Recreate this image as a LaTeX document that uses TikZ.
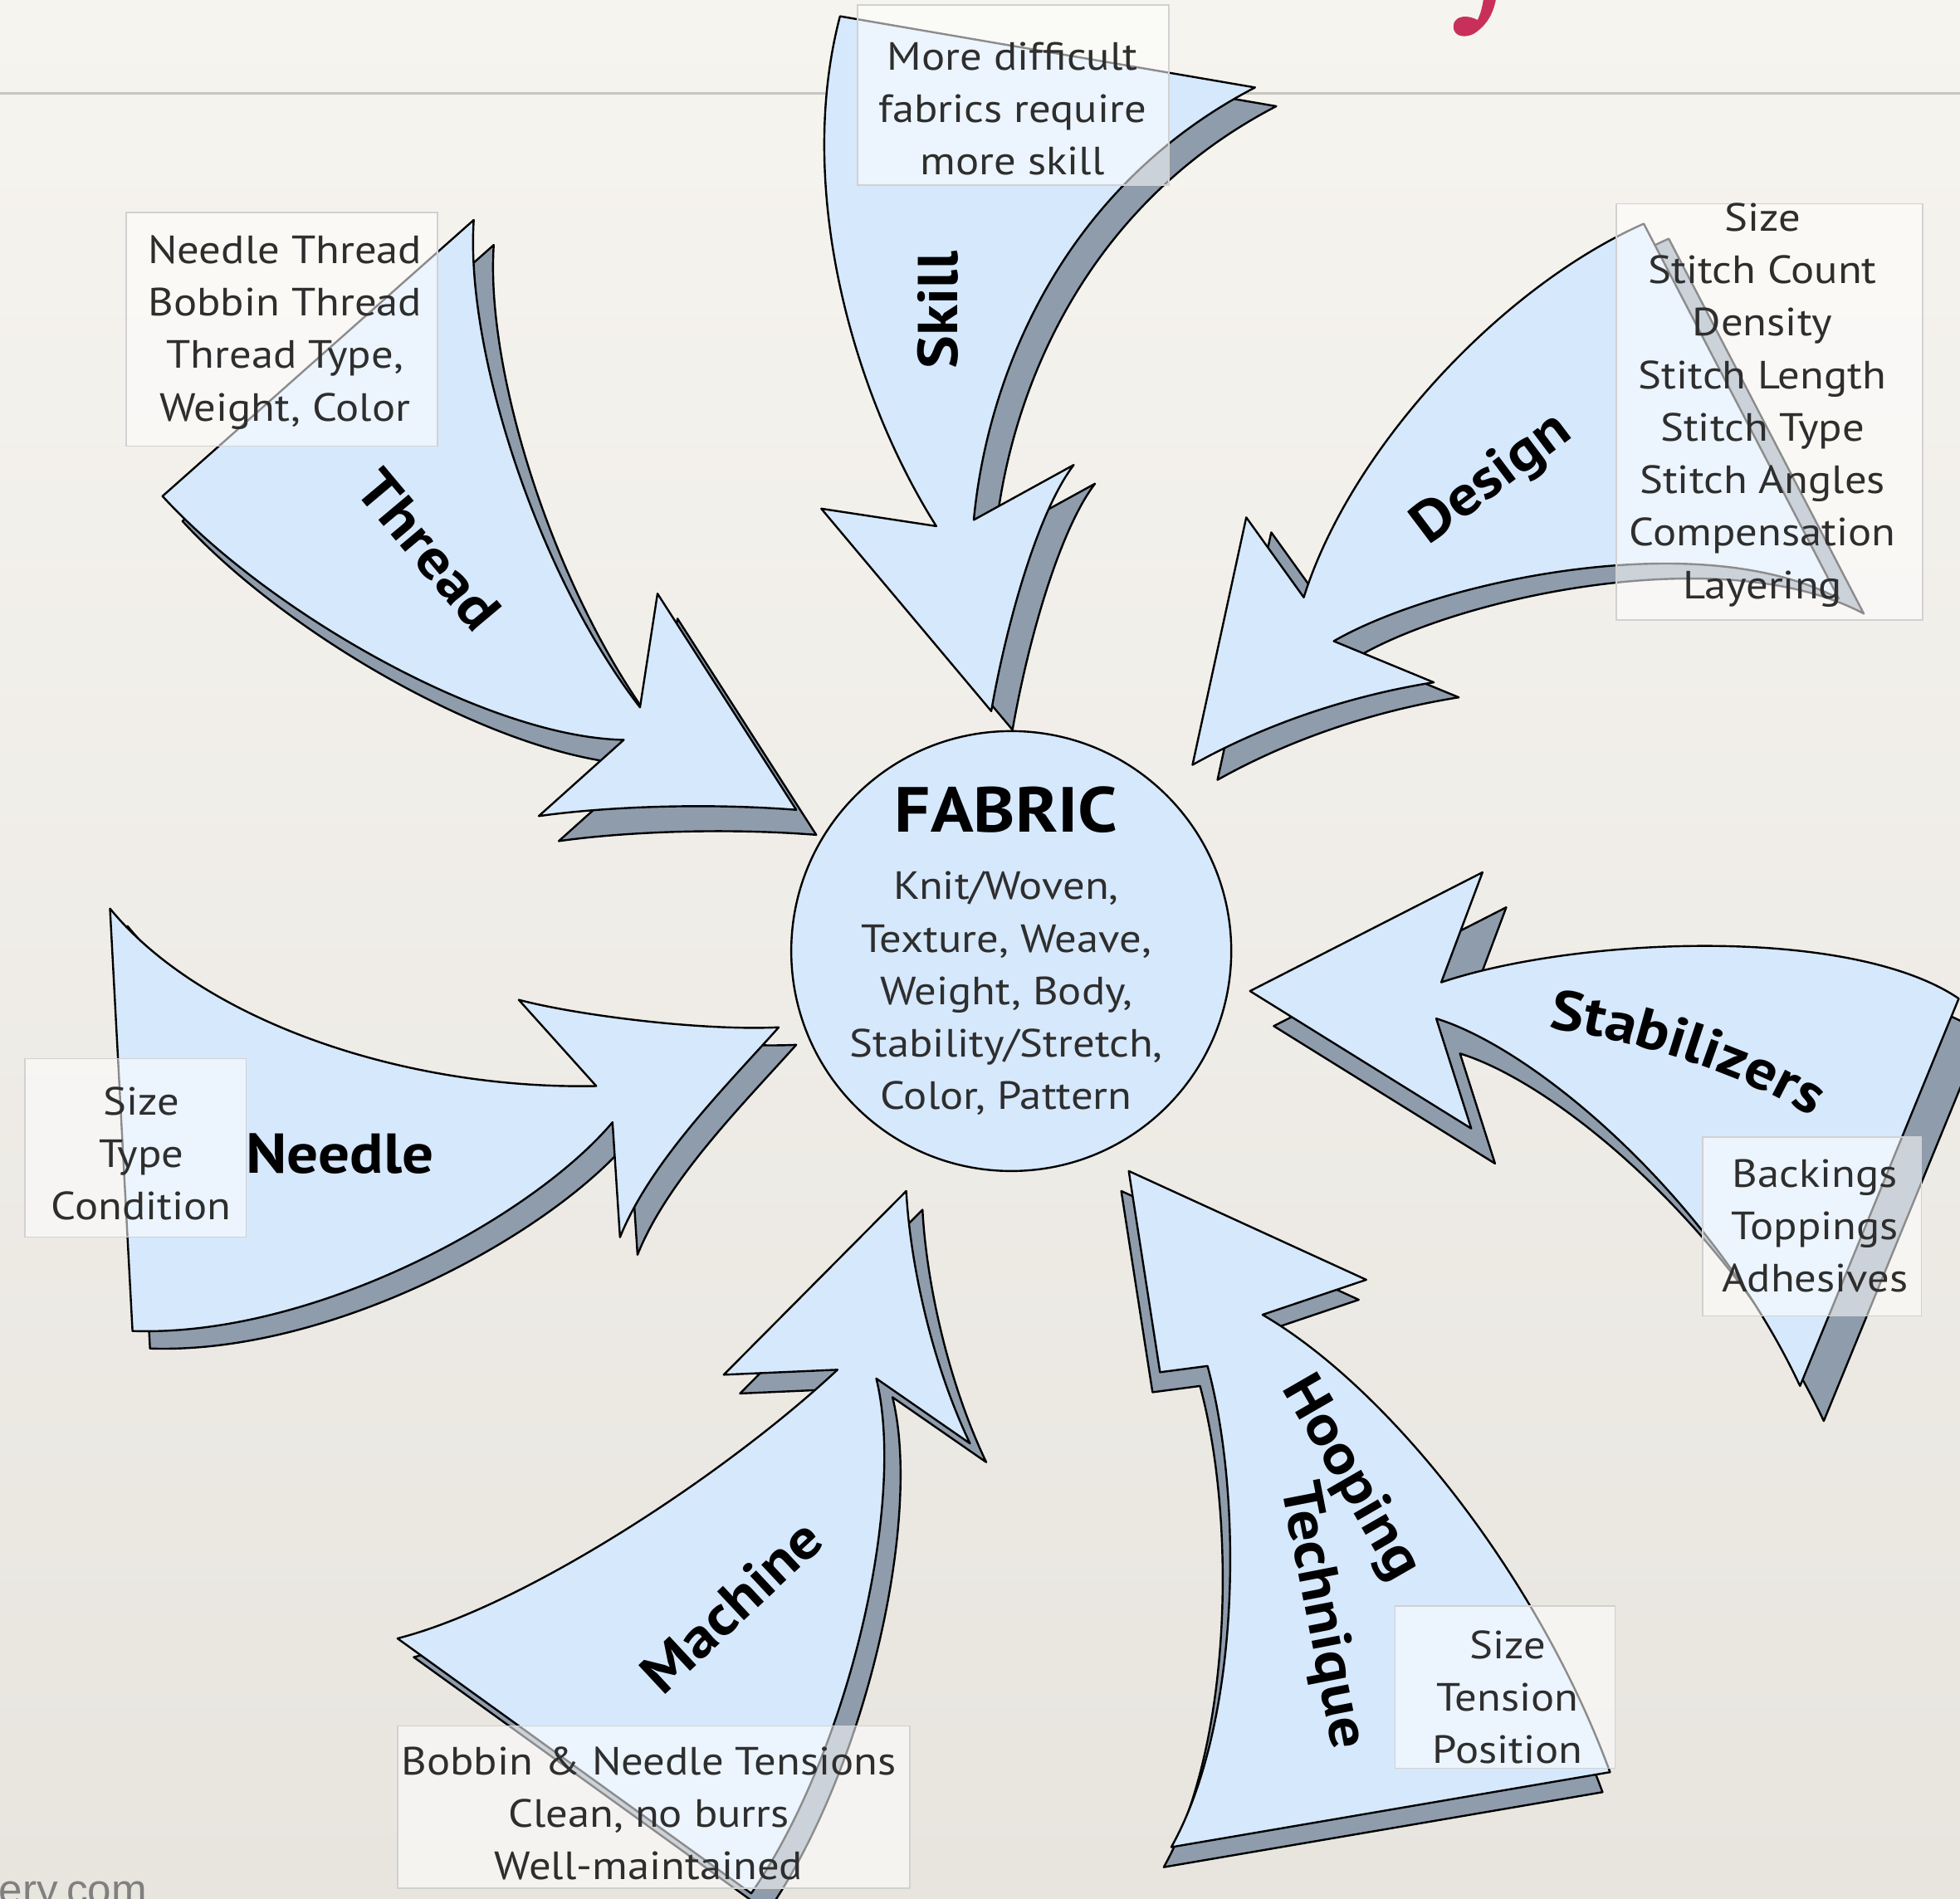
\documentclass[tikz,border=0pt]{standalone}
\usepackage{fontspec}
\setmainfont{PT Sans}[FakeStretch=1.11]
\newfontfamily\sitefont{Liberation Sans}
\usetikzlibrary{decorations.text}
\definecolor{bgtop}{RGB}{246,244,239}
\definecolor{bgbot}{RGB}{232,229,223}
\definecolor{arrfill}{RGB}{214,232,252}
\definecolor{shfill}{RGB}{142,156,172}
\definecolor{pinkmark}{RGB}{200,48,90}
\definecolor{rulegray}{RGB}{200,198,192}
\begin{document}
\begin{tikzpicture}[x=1pt,y=-1pt,
  arrowbody/.style={fill=arrfill,draw=black,line width=1.6pt,line join=round},
  arrowshadow/.style={fill=shfill,draw=black,line width=1.6pt,line join=round},
  infobox/.style={fill=white,fill opacity=0.55,draw=black!18,line width=1pt},
  infotext/.style={align=center,font=\fontsize{31.5}{42}\selectfont,text=black!82,inner sep=0pt},
  bigtext/.style={font=\fontsize{45}{48}\selectfont\bfseries,inner sep=0pt}]
\useasboundingbox (0,0) rectangle (1568,1519);
\clip (0,0) rectangle (1568,1519);
\shade[top color=bgtop,bottom color=bgbot] (0,0) rectangle (1568,1519);
\draw[rulegray,line width=2pt] (0,75) -- (1568,75);
\fill[pinkmark] (1187,-2) -- (1197,-2) .. controls (1195,10) and (1190,20) .. (1179,27) .. controls (1169,32) and (1161,27) .. (1163,19) .. controls (1165,12) and (1175,12) .. (1182,16) .. controls (1185,10) and (1186,4) .. (1187,-2) -- cycle;
\node[anchor=base west,font=\fontsize{34}{34}\selectfont\sitefont,text=black!50,inner sep=0pt] (site) at (-1,1524) {ery.com};

% arrow outlines
\def\skillpath{(672,13) .. controls (636,150) and (682,315) .. (749,421) -- (657,407) -- (793,569) .. controls (805,500) and (830,410) .. (859,372) -- (779,416) .. controls (790,300) and (850,150) .. (1004,70) -- cycle}
\def\threadpath{(130,397) -- (379,176) .. controls (372,280) and (430,460) .. (512,566) -- (526,475) -- (637,648) .. controls (560,642) and (480,646) .. (431,653) -- (499,592) .. controls (390,590) and (215,490) .. (130,397) -- cycle}
\def\designpath{(1471,479) -- (1315,179) .. controls (1200,230) and (1080,360) .. (1043,478) -- (997,414) -- (954,612) .. controls (1020,575) and (1090,555) .. (1147,546) -- (1067,513) .. controls (1150,465) and (1360,420) .. (1471,479) -- cycle}
\def\needlepath{(106,1065) -- (88,727) .. controls (160,815) and (320,872) .. (477,869) -- (415,800) .. controls (460,812) and (560,825) .. (623,822) .. controls (580,870) and (520,930) .. (496,990) -- (490,898) .. controls (425,975) and (250,1070) .. (106,1065) -- cycle}
\def\stabpath{(1567,799) .. controls (1480,740) and (1260,750) .. (1153,786) -- (1186,698) -- (1000,793) -- (1177,903) -- (1149,815) .. controls (1230,840) and (1370,960) .. (1440,1109) -- cycle}
\def\machinepath{(601,1515) -- (318,1311) .. controls (420,1285) and (580,1180) .. (670,1096) -- (579,1100) -- (725,953) .. controls (728,1010) and (745,1090) .. (776,1155) -- (701,1103) .. controls (725,1200) and (680,1400) .. (601,1515) -- cycle}
\def\hoopingpath{(937,1478) .. controls (992,1380) and (995,1200) .. (966,1093) -- (928,1098) -- (903,937) -- (1093,1024) -- (1010,1052) .. controls (1110,1110) and (1230,1260) .. (1288,1418) -- cycle}

\draw[arrowshadow,shift={(17,15)}] \skillpath;
\draw[arrowbody] \skillpath;
\draw[arrowshadow,shift={(16,20)}] \threadpath;
\draw[arrowbody] \threadpath;
\draw[arrowshadow,shift={(20,12)}] \designpath;
\draw[arrowbody] \designpath;
\draw[arrowshadow,shift={(14,14)}] \needlepath;
\draw[arrowbody] \needlepath;
\draw[arrowshadow,shift={(19,28)}] \stabpath;
\draw[arrowbody] \stabpath;
\draw[arrowshadow,shift={(13,15)}] \machinepath;
\draw[arrowbody] \machinepath;
\draw[arrowshadow,shift={(-6,16)}] \hoopingpath;
\draw[arrowbody] \hoopingpath;

% centre
\node[circle,draw=black,fill=arrfill,line width=1.6pt,minimum size=352pt,inner sep=0pt] (fabric) at (809,761) {};
\node[font=\fontsize{51}{54}\selectfont\bfseries,inner sep=0pt] (fabrictitle) at (805,648) {FABRIC};
\node[infotext] (fabricbody) at (805,795) {Knit/Woven,\\Texture, Weave,\\Weight, Body,\\Stability/Stretch,\\Color, Pattern};

% arrow labels
\node[bigtext,rotate=90] (skilllabel) at (750,248) {Skill};
\node[bigtext,rotate=-50] (threadlabel) at (343,440) {Thread};
\node[bigtext,rotate=37] (designlabel) at (1194,384) {Design};
\node[bigtext] (needlelabel) at (272,923) {Needle};
\node[bigtext,rotate=43] (machinelabel) at (585,1285) {Machine};
\node[bigtext,rotate=-60] (hoopinglabel) at (1080,1183) {Hooping};
\node[bigtext,rotate=-79] (techniquelabel) at (1057,1293) {Technique};
\path[decorate,decoration={text along path,text align=center,text={|\fontsize{45}{48}\selectfont\bfseries|Stabilizers}}] (1228,821) .. controls (1290,828) and (1400,858) .. (1458,900);

% info boxes
\draw[infobox] (686,4) rectangle (935,148);
\node[infotext] (skillinfo) at (810,87) {More difficult\\fabrics require\\more skill};
\draw[infobox] (101,170) rectangle (350,357);
\node[infotext] (threadinfo) at (228,266) {Needle Thread\\Bobbin Thread\\Thread Type,\\Weight, Color};
\draw[infobox] (1293,163) rectangle (1538,496);
\node[infotext] (designinfo) at (1410,324) {Size\\Stitch Count\\Density\\Stitch Length\\Stitch Type\\Stitch Angles\\Compensation\\Layering};
\draw[infobox] (20,847) rectangle (197,990);
\node[infotext] (needleinfo) at (113,923) {Size\\Type\\Condition};
\draw[infobox] (1362,910) rectangle (1537,1053);
\node[infotext] (stabinfo) at (1452,981) {Backings\\Toppings\\Adhesives};
\draw[infobox] (1116,1285) rectangle (1292,1415);
\node[infotext] (hoopinginfo) at (1206,1358) {Size\\Tension\\Position};
\draw[infobox] (318,1381) rectangle (728,1511);
\node[infotext] (machineinfo) at (519,1451) {Bobbin \& Needle Tensions\\Clean, no burrs\\Well-maintained};
\end{tikzpicture}
\end{document}
